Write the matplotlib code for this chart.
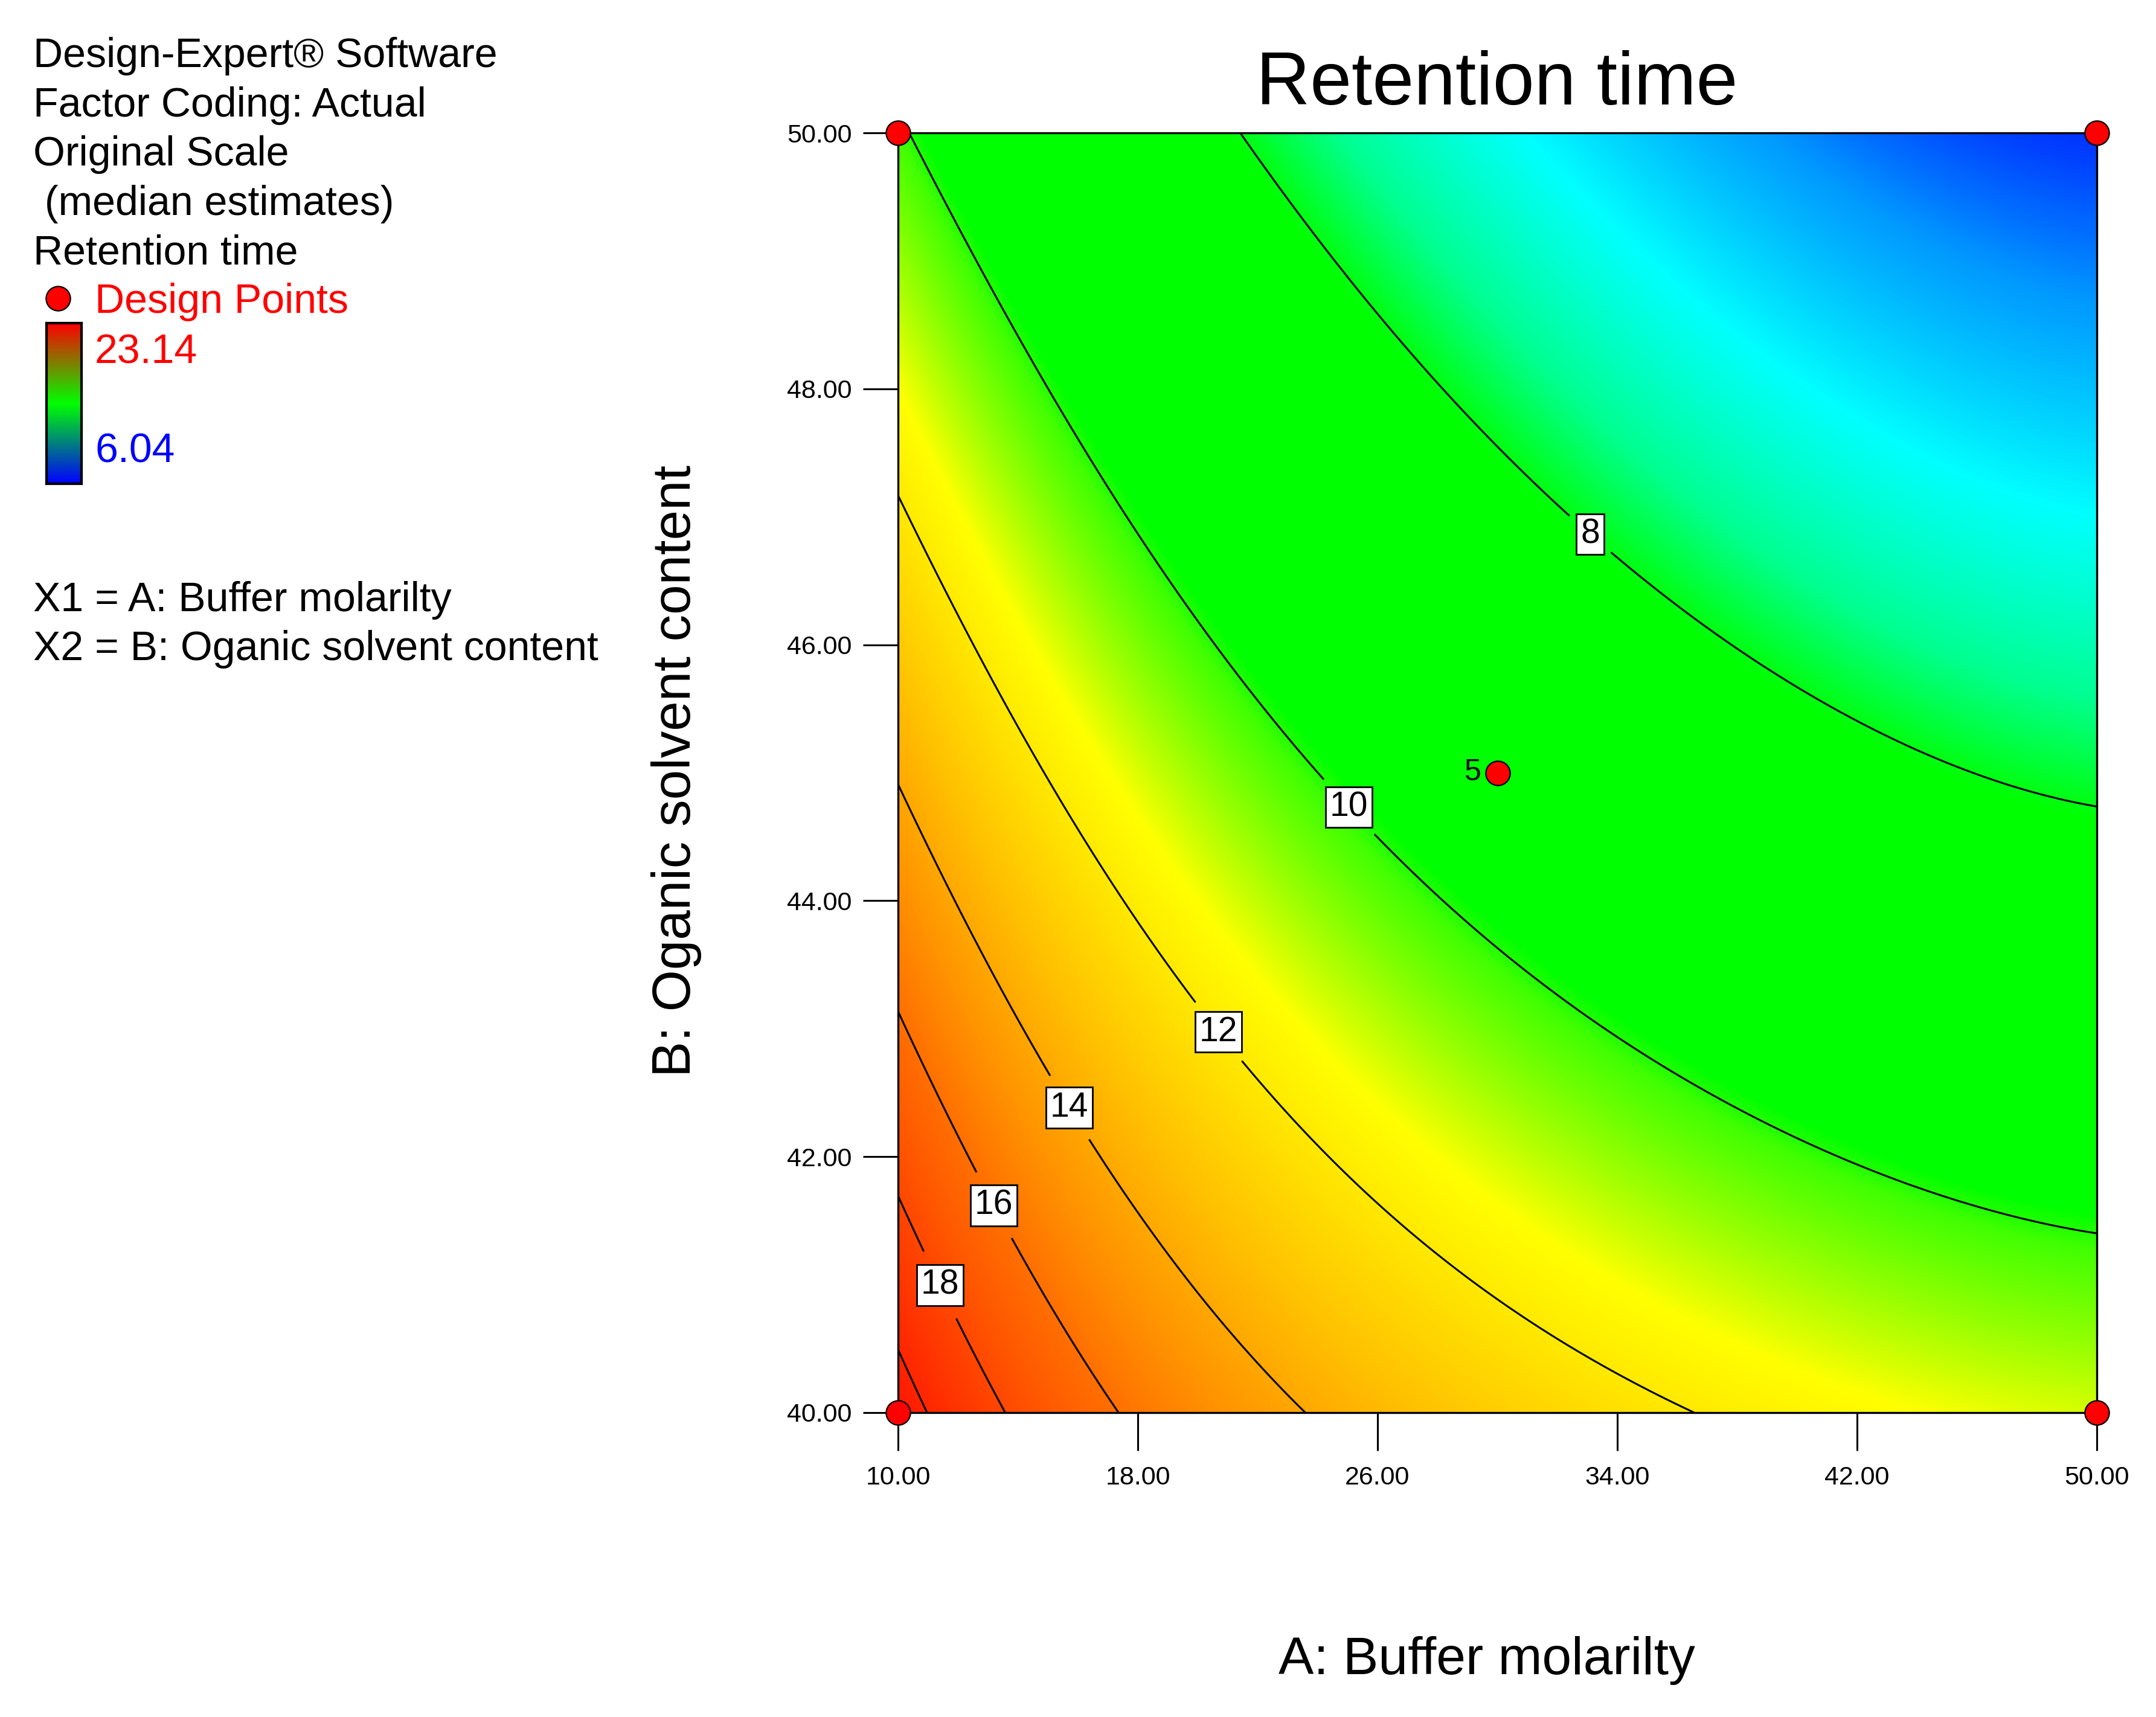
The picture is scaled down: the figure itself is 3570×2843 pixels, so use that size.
import numpy as np
import matplotlib
matplotlib.use("Agg")
import matplotlib.pyplot as plt
from matplotlib.colors import LinearSegmentedColormap, Normalize

plt.rcParams['font.family'] = ['Liberation Sans', 'DejaVu Sans']

# ---- data ----
# points on the contour lines: factor A, factor B, response level
contour_A = [10.0, 10.90,
             10.0, 11.60, 13.47,
             10.0, 12.66, 14.71, 16.13, 17.33,
             10.02, 13.30, 15.28, 18.96, 23.55,
             10.0, 12.45, 14.69, 17.97, 24.61, 28.40, 32.64, 37.16,
             10.43, 13.58, 16.98, 20.37, 24.18, 28.40, 34.05, 39.71, 45.36, 50.0,
             21.29, 24.61, 28.40, 33.49, 38.29, 42.53, 47.48, 50.0]
contour_B = [40.47, 40.0,
             41.70, 41.02, 40.0,
             43.14, 41.78, 41.00, 40.49, 40.0,
             44.93, 43.37, 42.54, 41.35, 40.0,
             47.18, 46.02, 45.09, 43.77, 41.95, 41.12, 40.49, 40.0,
             50.0, 48.47, 47.28, 46.15, 44.90, 43.89, 42.87, 42.15, 41.75, 41.54,
             50.0, 49.03, 47.94, 46.97, 45.82, 45.26, 44.90, 44.70]
contour_Y = [20, 20,
             18, 18, 18,
             16, 16, 16, 16, 16,
             14, 14, 14, 14, 14,
             12, 12, 12, 12, 12, 12, 12, 12,
             10, 10, 10, 10, 10, 10, 10, 10, 10, 10,
             8, 8, 8, 8, 8, 8, 8, 8]
# estimated response at the corners of the region
corner_A = [10, 50, 50, 10]
corner_B = [40, 40, 50, 50]
corner_Y = [20.9, 11.0, 6.0, 10.1]

# design points
design_A = [10, 10, 50, 50, 30]
design_B = [40, 50, 40, 50, 45]

contour_levels = [8, 10, 12, 14, 16, 18, 20]
label_levels = [8, 10, 12, 14, 16, 18]
label_A = [33.49, 25.22, 20.93, 15.98, 13.44, 11.60]
label_B = [46.97, 44.77, 43.02, 42.42, 41.65, 41.02]

x_ticks = [10, 18, 26, 34, 42, 50]
y_ticks = [40, 42, 44, 46, 48, 50]

legend_lines = ["Design-Expert\u00ae Software", "Factor Coding: Actual",
                "Original Scale", " (median estimates)", "Retention time"]
scale_max, scale_min = "23.14", "6.04"

# colour scale by response value
color_Y = [5.9, 6.4, 7.0, 7.6, 8.05, 9.9, 10.1, 11.4, 12.5, 14.0, 16.0, 18.0, 20.0, 21.5]
color_hex = ['#0018ff', '#0098ff', '#00ffff', '#00ff90', '#00ff00', '#00ff00',
             '#40ff00', '#ffff00', '#ffd800', '#ffa800', '#ff7000', '#ff4800',
             '#ff2600', '#ff1000']

# ---- surface fitted to the read points ----
A_all = np.array(contour_A + corner_A, float)
B_all = np.array(contour_B + corner_B, float)
Y_all = np.array(contour_Y + corner_Y, float)

def basis(A, B):
    a = (A - 30.0) / 20.0
    b = (B - 45.0) / 5.0
    return np.stack([np.ones_like(a), a, b, a * a, a * b, b * b, a ** 3, a * a * b,
                     a * b * b, a ** 4, a ** 3 * b], axis=-1)

g = Y_all ** -0.5
coef, *_ = np.linalg.lstsq(basis(A_all, B_all), g, rcond=None)

Ag = np.linspace(10, 50, 401)
Bg = np.linspace(40, 50, 401)
AA, BB = np.meshgrid(Ag, Bg)
ZZ = (basis(AA, BB) @ coef) ** -2.0

# ---- figure ----
W, H = 3570, 2843
fig = plt.figure(figsize=(W / 100, H / 100), dpi=100)
ax = fig.add_axes([1487 / W, 1 - 2339 / H, (3472 - 1487) / W, (2339 - 220) / H])

vmin, vmax = color_Y[0], color_Y[-1]
pos = [(v - vmin) / (vmax - vmin) for v in color_Y]
cmap = LinearSegmentedColormap.from_list('de', list(zip(pos, color_hex)), N=2048)
ax.imshow(ZZ, extent=[10, 50, 40, 50], origin='lower', aspect='auto', cmap=cmap,
          norm=Normalize(vmin, vmax), interpolation='bilinear', zorder=0)

cs = ax.contour(AA, BB, ZZ, levels=contour_levels, colors='black', linewidths=2.2, zorder=2)
labs = ax.clabel(cs, levels=label_levels, manual=list(zip(label_A, label_B)), inline=True,
                 inline_spacing=30, fmt='%d', fontsize=41)
for t in labs:
    t.set_rotation(0)
    t.set_bbox(dict(boxstyle='square,pad=0.12', facecolor='white', edgecolor='black', linewidth=2.0))
    t.set_zorder(4)

ax.plot(design_A, design_B, 'o', ms=29, mfc='#ff0000', mec='black', mew=1.6,
        clip_on=False, zorder=5)
ax.annotate("5", (design_A[4], design_B[4]), xytext=(-27, 0), textcoords='offset pixels',
            ha='right', va='center', fontsize=36, zorder=5)

ax.set_xlim(10, 50)
ax.set_ylim(40, 50)
ax.set_xticks(x_ticks)
ax.set_xticklabels([f"{v:.2f}" for v in x_ticks])
ax.set_yticks(y_ticks)
ax.set_yticklabels([f"{v:.2f}" for v in y_ticks])
ax.tick_params(axis='x', direction='out', length=45, width=2.2, labelsize=31, pad=18)
ax.tick_params(axis='y', direction='out', length=42, width=2.2, labelsize=31, pad=13)
for s in ax.spines.values():
    s.set_linewidth(2.4)
    s.set_zorder(3)

fig.text(2479 / W, 1 - 173 / H, "Retention time", ha='center', va='baseline', fontsize=89)
fig.text(2462 / W, 1 - 2772 / H, "A: Buffer molarilty", ha='center', va='baseline', fontsize=63)
fig.text(1120 / W, 1 - 1276 / H, "B: Oganic solvent content", ha='center', va='center',
         rotation=90, fontsize=64)

# left legend block
baselines = [111, 193, 274, 356, 437]
for txt, yb in zip(legend_lines, baselines):
    fig.text(55 / W, 1 - yb / H, txt, ha='left', va='baseline', fontsize=49)
fig.text(157 / W, 1 - 518 / H, "Design Points", color='#ff0000', ha='left', va='baseline', fontsize=49)
fig.lines.append(plt.Line2D([96 / W], [1 - 494 / H], marker='o', ms=29, mfc='#ff0000',
                            mec='black', mew=1.6, transform=fig.transFigure, figure=fig))
fig.text(157 / W, 1 - 601 / H, scale_max, color='#ff0000', ha='left', va='baseline', fontsize=49)
fig.text(157 / W, 1 - 765 / H, scale_min, color='#0000ff', ha='left', va='baseline', fontsize=49)
fig.text(55 / W, 1 - 1012 / H, "X1 = A: Buffer molarilty", ha='left', va='baseline', fontsize=49)
fig.text(55 / W, 1 - 1093 / H, "X2 = B: Oganic solvent content", ha='left', va='baseline', fontsize=49)

cax = fig.add_axes([77 / W, 1 - 801 / H, 58 / W, 266 / H])
grad = np.linspace(0, 1, 256).reshape(-1, 1)
cax.imshow(grad, origin='lower', aspect='auto',
           cmap=LinearSegmentedColormap.from_list('bgr', ['#0000ff', '#00ff00', '#ff0000']))
cax.set_xticks([])
cax.set_yticks([])
for s in cax.spines.values():
    s.set_linewidth(3)

fig.savefig("out.png", dpi=100)
